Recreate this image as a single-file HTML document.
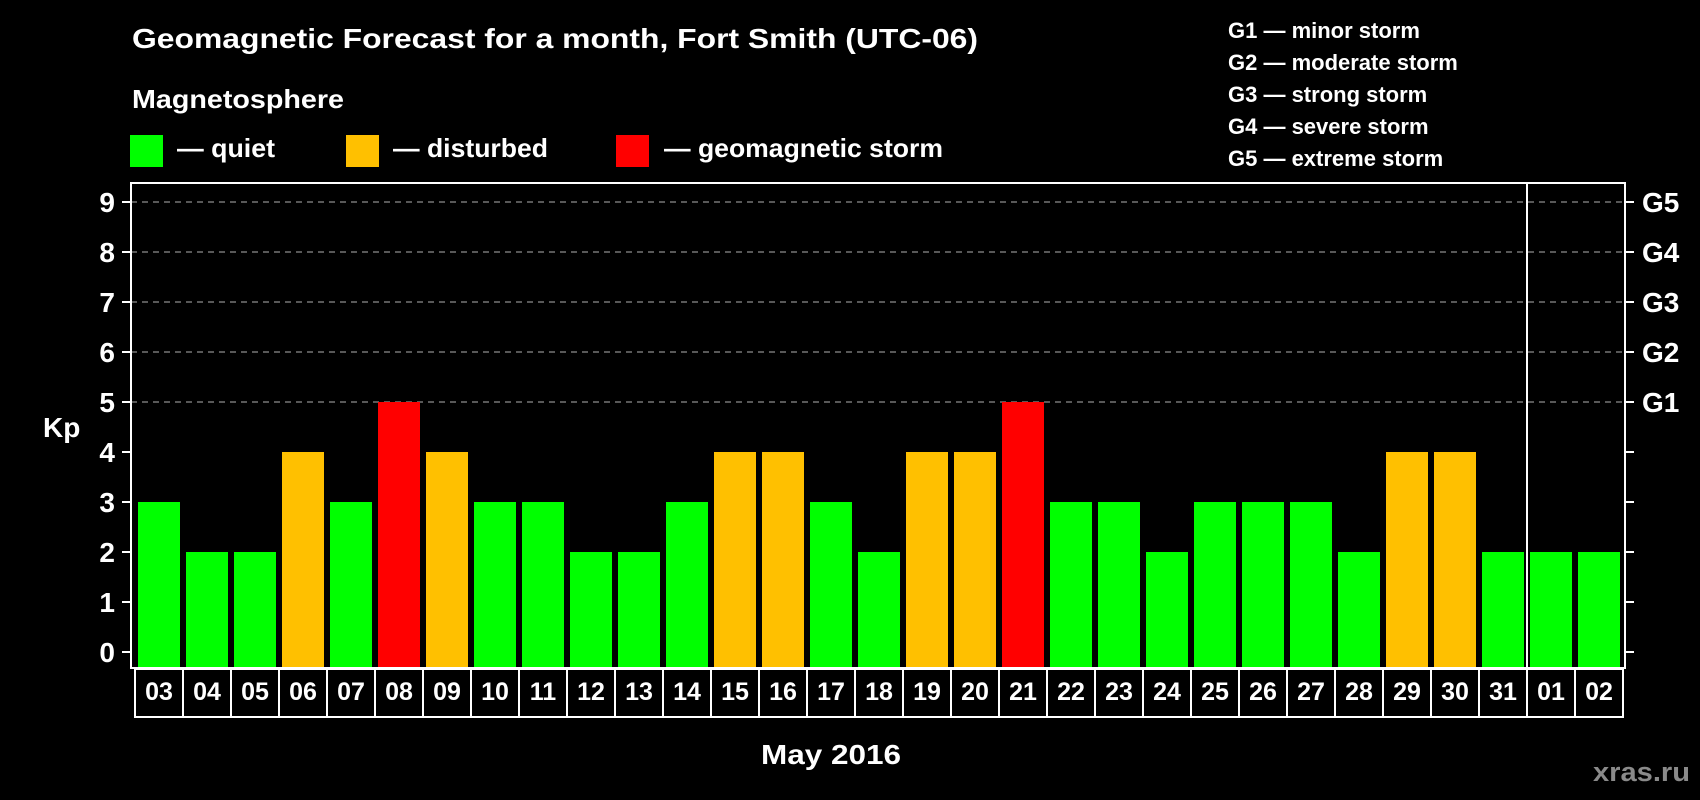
<!DOCTYPE html>
<html><head><meta charset="utf-8"><style>
html,body{margin:0;padding:0;background:#000;}
svg{display:block;}
text{font-family:"Liberation Sans",Arial,sans-serif;font-weight:bold;fill:#fff;}
</style></head><body>
<svg id="chart" width="1700" height="800" viewBox="0 0 1700 800">
<text x="132" y="48" font-size="28" textLength="846" lengthAdjust="spacingAndGlyphs">Geomagnetic Forecast for a month, Fort Smith (UTC-06)</text>
<text x="132" y="108" font-size="26" textLength="212" lengthAdjust="spacingAndGlyphs">Magnetosphere</text>
<g>
<rect x="130" y="135" width="33" height="32" fill="#00ff00"/>
<text x="177" y="157" font-size="26" textLength="98" lengthAdjust="spacingAndGlyphs">— quiet</text></g>
<g>
<rect x="346" y="135" width="33" height="32" fill="#ffc000"/>
<text x="393" y="157" font-size="26" textLength="155" lengthAdjust="spacingAndGlyphs">— disturbed</text></g>
<g>
<rect x="616" y="135" width="33" height="32" fill="#ff0000"/>
<text x="664" y="157" font-size="26" textLength="279" lengthAdjust="spacingAndGlyphs">— geomagnetic storm</text></g>
<g font-size="22">
<text x="1228" y="38">G1 — minor storm</text>
<text x="1228" y="70">G2 — moderate storm</text>
<text x="1228" y="102">G3 — strong storm</text>
<text x="1228" y="134">G4 — severe storm</text>
<text x="1228" y="166">G5 — extreme storm</text>
</g>
<text x="43" y="437" font-size="28">Kp</text>
<text x="761" y="764" font-size="28" textLength="140" lengthAdjust="spacingAndGlyphs">May 2016</text>
<text x="1593" y="781" font-size="27" textLength="97" lengthAdjust="spacingAndGlyphs" style="fill:#8a8a8a">xras.ru</text>
<g id="plot"></g>
</svg>
<script>
const days = ["03","04","05","06","07","08","09","10","11","12","13","14","15","16","17","18","19","20","21","22","23","24","25","26","27","28","29","30","31","01","02"];
const kpValues = [3,2,2,4,3,5,4,3,3,2,2,3,4,4,3,2,4,4,5,3,3,2,3,3,3,2,4,4,2,2,2];
const yTicks = [0,1,2,3,4,5,6,7,8,9];
const gLabels = ["G1","G2","G3","G4","G5"];
const gLevels = [5,6,7,8,9];
const monthBreakIndex = 29;

const NS = "http://www.w3.org/2000/svg";
const plot = document.getElementById('plot');
const L = 131, R = 1625, T = 183, B = 668;
const slot = 48, x0 = 138, barW = 42;
function y(v){ return 652 - v * 50; }
function x(i){ return x0 + i * slot; }
function mk(tag, attrs){ const e = document.createElementNS(NS, tag); for (const k in attrs) e.setAttribute(k, attrs[k]); plot.appendChild(e); return e; }
function color(v){ return v >= 5 ? "#ff0000" : (v >= 4 ? "#ffc000" : "#00ff00"); }

gLevels.forEach(function(v){
  const g = mk('line', {x1: L, x2: R, y1: y(v), y2: y(v), stroke: "#8c8c8c", "stroke-width": 1.2, "stroke-dasharray": "6,5"});
  
  
});
kpValues.forEach(function(v, i){
  const b = mk('rect', {x: x(i), y: y(v), width: barW, height: B - y(v), fill: color(v)});
  
  
});
const frame = mk('rect', {x: L, y: T, width: R - L, height: B - T, fill: "none", stroke: "#fff", "stroke-width": 2});


const sep = mk('line', {x1: x(monthBreakIndex) - 3, x2: x(monthBreakIndex) - 3, y1: T, y2: B, stroke: "#fff", "stroke-width": 2});


yTicks.forEach(function(v){
  const tl = mk('line', {x1: 122, x2: L, y1: y(v), y2: y(v), stroke: "#fff", "stroke-width": 2});
  
  
  const tr = mk('line', {x1: R, x2: 1634, y1: y(v), y2: y(v), stroke: "#fff", "stroke-width": 2});
  
  
  const t = mk('text', {x: 115, y: y(v) + 10, "font-size": 28, "text-anchor": "end"});
  t.textContent = v;
  
  
});
gLevels.forEach(function(v, i){
  const t = mk('text', {x: 1642, y: y(v) + 10, "font-size": 28});
  t.textContent = gLabels[i];
  
  
});
days.forEach(function(d, i){
  const bx = mk('rect', {x: x(i) - 3, y: 669, width: slot, height: 48, fill: "none", stroke: "#fff", "stroke-width": 2});
  
  
  const t = mk('text', {x: x(i) - 3 + slot / 2, y: 700, "font-size": 25, "text-anchor": "middle"});
  t.textContent = d;
  
  
});
</script>
</body></html>
